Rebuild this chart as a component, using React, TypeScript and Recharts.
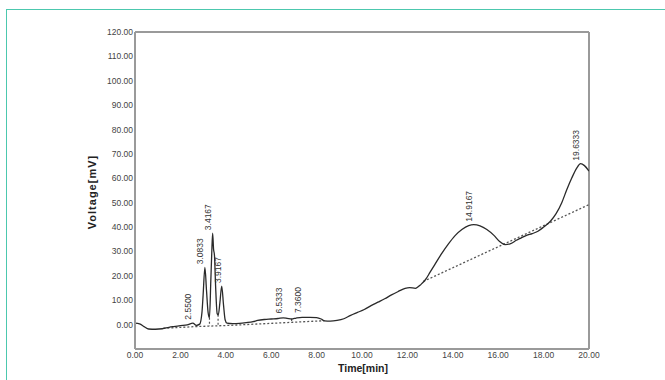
import React from 'react';
import { ComposedChart, Line, XAxis, YAxis, ReferenceLine, LabelList } from 'recharts';

// Chromatogram signal
const times = [0, 0.2, 0.4, 0.6, 0.9, 1.2, 1.5, 1.7, 2.0, 2.3, 2.55, 2.7, 2.85, 2.95, 3.0, 3.08, 3.15, 3.22, 3.28, 3.34, 3.38, 3.42, 3.46, 3.5, 3.55, 3.62, 3.67, 3.74, 3.82, 3.9, 3.97, 4.05, 4.3, 4.6, 4.9, 5.2, 5.4, 5.7, 6.0, 6.3, 6.53, 6.7, 6.9, 7.1, 7.36, 7.7, 8.0, 8.2, 8.35, 8.6, 8.9, 9.2, 9.5, 9.8, 10.1, 10.4, 10.7, 11.0, 11.3, 11.6, 11.9, 12.1, 12.35, 12.6, 12.8, 13.0, 13.2, 13.5, 13.8, 14.1, 14.4, 14.7, 14.92, 15.2, 15.5, 15.8, 16.05, 16.3, 16.55, 16.8, 17.0, 17.25, 17.5, 17.75, 18.0, 18.3, 18.55, 18.8, 19.02, 19.24, 19.46, 19.63, 19.8, 20.0];
const voltages = [0.6, 0.3, -0.8, -1.8, -1.9, -1.7, -1.1, -0.8, -0.4, -0.1, 0.6, -0.3, 0.2, 5, 12, 23.5, 14, 5, 2.8, 18, 29, 37.5, 31, 28.5, 16, 4.5, 4, 9, 15.8, 8, 2, 0.6, 0.4, 0.5, 0.8, 1.2, 1.7, 2.1, 2.3, 2.5, 2.8, 2.6, 2.3, 2.7, 3.0, 3.0, 2.9, 2.3, 1.5, 1.4, 1.7, 2.4, 3.8, 5.0, 6.2, 7.8, 9.2, 10.6, 12.2, 13.6, 14.9, 15.2, 14.9, 16.5, 18.5, 21.5, 24.5, 29, 33, 36.5, 39, 40.6, 41, 40.5, 39, 36.7, 34.2, 32.8, 33.2, 34.6, 35.5, 36.6, 37.3, 38.3, 40.0, 42.4, 45.5, 50, 55.3, 60.1, 64.2, 66, 65.2, 63];

// Integration baselines
const baseATimes = [1.25, 2.7, 4.2, 8.35];
const baseAValues = [-1.5, -0.8, -0.3, 1.6];
const baseBTimes = [12.7, 20];
const baseBValues = [17.7, 49.2];

// Peak drop lines
const dropTimes = [2.72, 3.28, 3.66, 6.9];
const dropTops = [-0.3, 2.8, 4.0, 2.3];
const dropBottoms = [-0.8, -0.6, -0.4, 1.0];

// Peak labels
const peakNames = ['2.5500', '3.0833', '3.4167', '3.9167', '6.5333', '7.3600', '14.9167', '19.6333'];
const peakTimes = [2.55, 3.0833, 3.4167, 3.85, 6.5333, 7.36, 14.9167, 19.6333];
const peakHeights = [0.8, 23.5, 37.5, 15.8, 3.3, 3.5, 41, 66];

const xTicks = [0, 2, 4, 6, 8, 10, 12, 14, 16, 18, 20];
const yTicks = [0, 10, 20, 30, 40, 50, 60, 70, 80, 90, 100, 110, 120];

const signal = times.map((t, i) => ({ t, v: voltages[i] }));
const baseA = baseATimes.map((t, i) => ({ t, b: baseAValues[i] }));
const baseB = baseBTimes.map((t, i) => ({ t, b: baseBValues[i] }));
const peaks = peakTimes.map((t, i) => ({ t, p: peakHeights[i], name: peakNames[i] }));

const FONT = '"Liberation Sans", Arial, sans-serif';
const AXIS = '#9a9a9a';

const PeakLabel = (props: any) => {
  const { x, y, value } = props;
  return (
    <text
      transform={`translate(${x - 1.5},${y - 3}) rotate(-90)`}
      fontSize={8.5}
      fontFamily={FONT}
      fill="#333"
      textAnchor="start"
    >
      {value}
    </text>
  );
};

export default function App() {
  return (
    <div style={{ position: 'absolute', left: 0, top: 0, width: 665, height: 380, background: '#fff', overflow: 'hidden' }}>
      <div
        style={{
          position: 'absolute',
          left: 6,
          top: 9,
          width: 700,
          height: 400,
          borderLeft: '1.5px solid #4cc8ae',
          borderTop: '1.5px solid #4cc8ae',
        }}
      />
      <ComposedChart
        width={665}
        height={380}
        margin={{ top: 32, right: 76, bottom: 11, left: 95 }}
        style={{ position: 'absolute', left: 0, top: 0 }}
      >
        <XAxis
          type="number"
          dataKey="t"
          domain={[0, 20]}
          ticks={xTicks}
          allowDataOverflow
          tickFormatter={(v: number) => v.toFixed(2)}
          tick={{ fontSize: 8.5, fill: '#444', fontFamily: FONT }}
          tickLine={false}
          tickSize={0}
          tickMargin={3}
          axisLine={{ stroke: AXIS, strokeWidth: 2 }}
          height={20}
        />
        <YAxis
          type="number"
          domain={[-10, 120]}
          ticks={yTicks}
          allowDataOverflow
          tickFormatter={(v: number) => v.toFixed(2)}
          tick={{ fontSize: 8.5, fill: '#444', fontFamily: FONT }}
          tickLine={false}
          tickSize={0}
          tickMargin={2}
          axisLine={{ stroke: AXIS, strokeWidth: 2 }}
          width={40}
        />
        <ReferenceLine y={120} stroke={AXIS} strokeWidth={2} />
        <ReferenceLine x={20} stroke={AXIS} strokeWidth={2} />
        {dropTimes.map((t, i) => (
          <ReferenceLine
            key={'d' + i}
            segment={[{ x: t, y: dropTops[i] }, { x: t, y: dropBottoms[i] }]}
            stroke="#555"
            strokeWidth={1.2}
            strokeDasharray="2 2"
          />
        ))}
        <Line data={baseA} dataKey="b" type="linear" stroke="#555" strokeWidth={1.3} strokeDasharray="2 2" dot={false} isAnimationActive={false} />
        <Line data={baseB} dataKey="b" type="linear" stroke="#555" strokeWidth={1.3} strokeDasharray="2 2" dot={false} isAnimationActive={false} />
        <Line data={signal} dataKey="v" type="monotone" stroke="#2a2a2a" strokeWidth={1.3} dot={false} isAnimationActive={false} />
        <Line data={peaks} dataKey="p" type="linear" stroke="none" dot={false} isAnimationActive={false}>
          <LabelList dataKey="name" content={PeakLabel} />
        </Line>
      </ComposedChart>
      <div
        style={{
          position: 'absolute',
          left: 338,
          top: 362,
          width: 50,
          textAlign: 'center',
          fontFamily: FONT,
          fontWeight: 'bold',
          fontSize: 10.5,
          color: '#222',
          whiteSpace: 'nowrap',
        }}
      >
        Time[min]
      </div>
      <div
        style={{
          position: 'absolute',
          left: 92,
          top: 192,
          transform: 'translate(-50%, -50%) rotate(-90deg)',
          fontFamily: FONT,
          fontWeight: 'bold',
          fontSize: 11,
          letterSpacing: 1,
          color: '#222',
          whiteSpace: 'nowrap',
        }}
      >
        Voltage[mV]
      </div>
    </div>
  );
}
